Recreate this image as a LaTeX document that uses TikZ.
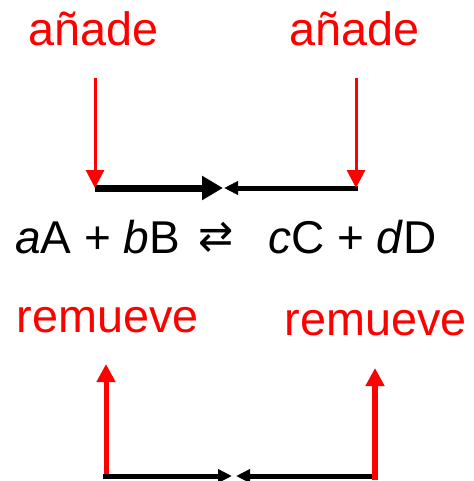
\documentclass[tikz,border=0pt]{standalone}
\usepackage{fontspec}
\setmainfont{Liberation Sans}
\newfontfamily\arrfont{DejaVu Sans}
\usetikzlibrary{arrows.meta}
\definecolor{myred}{RGB}{255,0,0}
\tikzset{
  redlabel/.style={text=myred, inner sep=0pt, anchor=base, font=\fontsize{46.8}{56}\selectfont},
  eqtext/.style={inner sep=0pt, anchor=base west, font=\fontsize{46}{55}\selectfont},
  redarrow/.style={draw=myred, line width=#1, -{Triangle[length=18pt,width=18pt]}},
  blkthick/.style={draw=black, line width=7pt, -{Triangle[length=21pt,width=23pt]}},
  blkthin/.style={draw=black, line width=5pt, -{Triangle[length=14pt,width=13pt]}},
}
\begin{document}
\begin{tikzpicture}[x=1pt,y=-1pt]
\useasboundingbox (0,0) rectangle (473,481);
% labels
\node[redlabel] (add1) at (93.5,46) {añade};
\node[redlabel] (add2) at (354.5,46) {añade};
\node[redlabel] (rem1) at (108,332) {remueve};
\node[redlabel] (rem2) at (376,335) {remueve};
% equation
\node[eqtext] (eqL) at (15,253) {\textit{a}A + \textit{b}B};
\node[eqtext, font=\arrfont\fontsize{42}{50}\selectfont] (eqA) at (198,250) {⇄};
\node[eqtext] (eqR) at (268,253) {\textit{c}C + \textit{d}D};
% top coordinates
\coordinate (t1s) at (95,78);
\coordinate (t1e) at (95,188);
\coordinate (t2s) at (356,78);
\coordinate (t2e) at (356,188);
\coordinate (tl) at (95,188);
\coordinate (tm1) at (223,188);
\coordinate (tm2) at (224,188);
\coordinate (tr) at (358,188);
\draw[blkthick] (tl) -- (tm1);
\draw[blkthin] (tr) -- (tm2);
\draw[redarrow=3pt] (t1s) -- (t1e);
\draw[redarrow=3pt] (t2s) -- (t2e);
% bottom coordinates
\coordinate (b1s) at (106,478);
\coordinate (b1e) at (106,364);
\coordinate (b2s) at (375,480);
\coordinate (b2e) at (375,368);
\coordinate (bl) at (103,476);
\coordinate (bm1) at (232,476);
\coordinate (bm2) at (236,476);
\coordinate (br) at (372,476);
\draw[redarrow=5pt] (b1s) -- (b1e);
\draw[redarrow=6pt] (b2s) -- (b2e);
\draw[blkthin] (bl) -- (bm1);
\draw[blkthin] (br) -- (bm2);
\end{tikzpicture}
\end{document}
